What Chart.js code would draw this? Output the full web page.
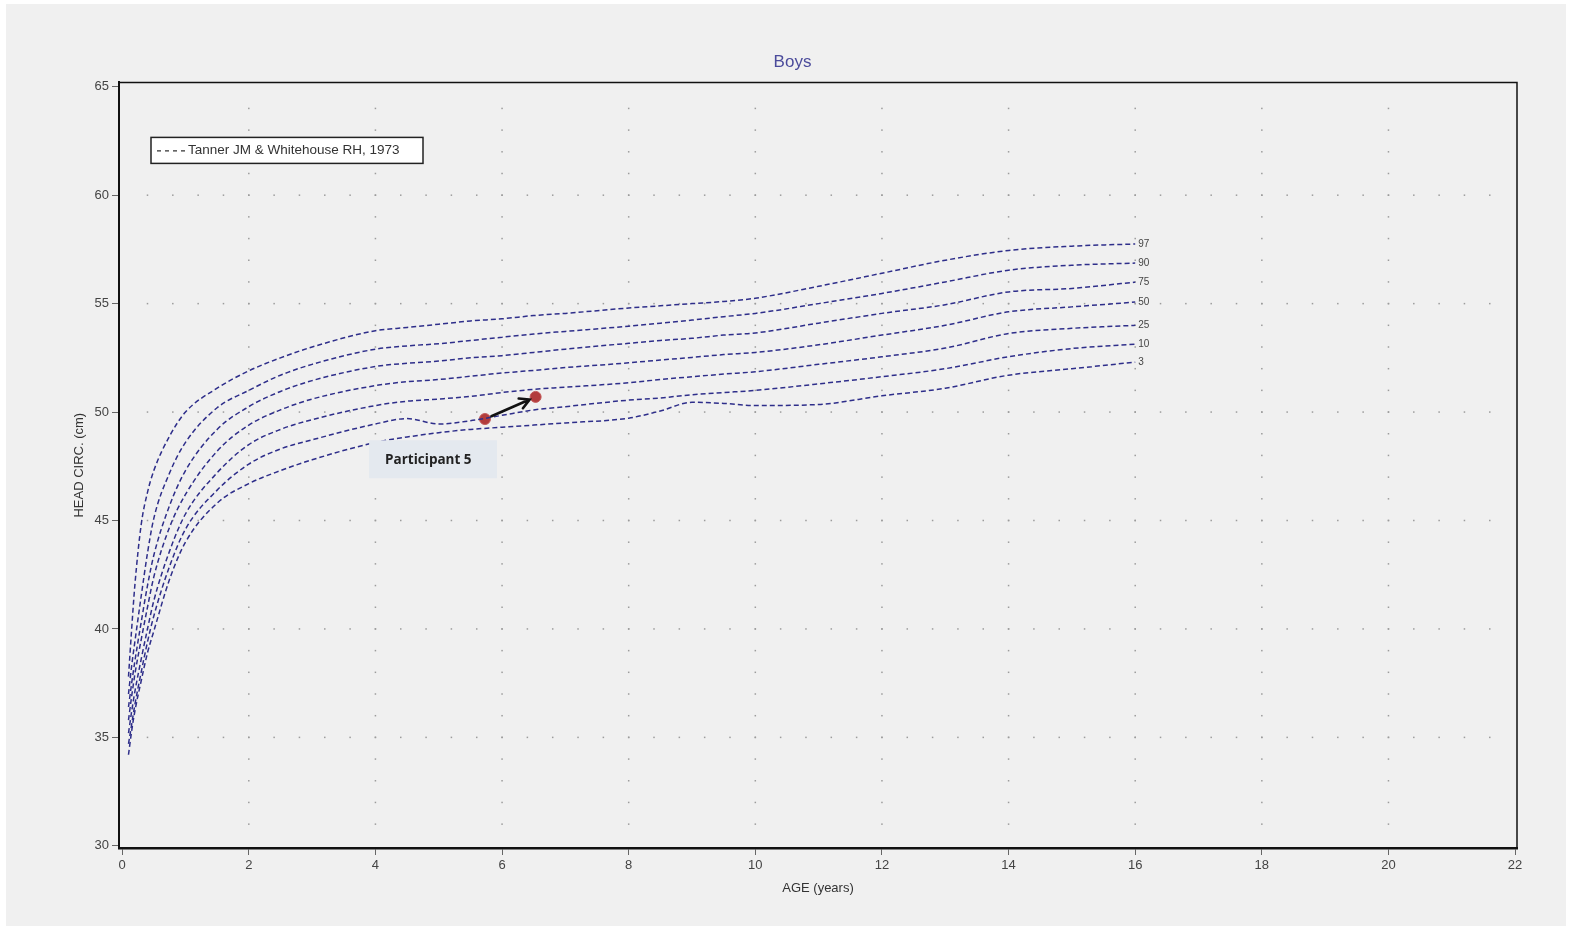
<!DOCTYPE html>
<html>
<head>
<meta charset="utf-8">
<title>Boys - head circumference</title>
<script src="https://cdn.jsdelivr.net/npm/chart.js@4.4.0/dist/chart.umd.min.js"></script>
<style>
  html, body { margin: 0; padding: 0; background: #fff; }
  canvas { display: block; }
</style>
</head>
<body>
<canvas id="headChart" width="1572" height="931"></canvas>
<script>
// ages (years) shared by every centile curve
var ages = [0.1, 0.15, 0.2, 0.3, 0.4, 0.5, 0.75, 1, 1.5, 2, 2.5, 3, 4, 4.5, 5, 5.5, 6, 6.5, 7, 8, 8.5, 9, 9.5, 10, 11, 12, 13, 14, 15, 16];

var p97 = [37.8, 40.0, 42.0, 44.8, 46.3, 47.3, 48.9, 50.0, 51.1, 51.9, 52.5, 53.0, 53.75, 53.9, 54.05, 54.2, 54.3, 54.45, 54.55, 54.8, 54.9, 55.0, 55.1, 55.25, 55.8, 56.4, 57.0, 57.45, 57.65, 57.75];
var p90 = [37.0, 38.3, 39.4, 41.5, 43.5, 45.1, 47.2, 48.6, 50.2, 51.0, 51.7, 52.2, 52.9, 53.05, 53.15, 53.3, 53.45, 53.6, 53.72, 53.96, 54.1, 54.24, 54.4, 54.55, 55.0, 55.47, 56.0, 56.54, 56.77, 56.87];
var p75 = [36.4, 37.5, 38.5, 40.3, 42.0, 43.4, 45.7, 47.3, 49.2, 50.25, 50.95, 51.45, 52.1, 52.25, 52.35, 52.5, 52.6, 52.75, 52.9, 53.17, 53.3, 53.4, 53.55, 53.65, 54.1, 54.55, 54.95, 55.54, 55.7, 55.99];
var p50 = [35.8, 36.9, 37.9, 39.5, 41.0, 42.4, 44.7, 46.2, 48.2, 49.4, 50.1, 50.6, 51.22, 51.4, 51.5, 51.65, 51.8, 51.92, 52.05, 52.27, 52.4, 52.52, 52.65, 52.75, 53.1, 53.55, 54.0, 54.62, 54.85, 55.07];
var p25 = [35.2, 36.2, 37.1, 38.6, 40.0, 41.3, 43.6, 45.3, 47.2, 48.5, 49.2, 49.65, 50.3, 50.5, 50.6, 50.72, 50.9, 51.05, 51.15, 51.35, 51.5, 51.63, 51.75, 51.86, 52.2, 52.55, 52.95, 53.62, 53.86, 54.0];
var p10 = [34.7, 35.6, 36.5, 38.0, 39.4, 40.6, 42.9, 44.6, 46.4, 47.6, 48.3, 48.72, 49.45, 49.7, 49.45, 49.6, 49.85, 50.1, 50.25, 50.55, 50.65, 50.8, 50.9, 51.0, 51.3, 51.63, 52.0, 52.55, 52.93, 53.13];
var p3 = [34.2, 35.3, 36.2, 37.6, 38.9, 39.9, 42.3, 44.0, 45.8, 46.7, 47.3, 47.8, 48.6, 48.85, 49.05, 49.2, 49.3, 49.4, 49.5, 49.72, 50.05, 50.45, 50.4, 50.3, 50.35, 50.75, 51.1, 51.7, 52.0, 52.3];
var centileNames = ['97', '90', '75', '50', '25', '10', '3'];

// participant 5 measurements
var participantAges = [5.73, 6.53];
var participantCm = [49.68, 50.7];
var participantName = 'Participant 5';

var xTicks = [0, 2, 4, 6, 8, 10, 12, 14, 16, 18, 20, 22];
var yTicks = [30, 35, 40, 45, 50, 55, 60, 65];
var legendText = 'Tanner JM & Whitehouse RH, 1973';

var FONT = "'Liberation Sans', Arial, sans-serif";
var curveColor = '#2e2e8a';

function toPoints(xs, ys) {
    return xs.map(function(x, i) { return {x: x, y: ys[i]}; });
}

var centileSeries = [p97, p90, p75, p50, p25, p10, p3];
var datasets = centileSeries.map(function(vals, i) {
    return {
        label: centileNames[i],
        data: toPoints(ages, vals),
        borderColor: curveColor,
        borderWidth: 1.5,
        borderDash: [5, 3],
        pointRadius: 0,
        fill: false,
        cubicInterpolationMode: 'monotone'
    };
});
datasets.push({
    label: participantName,
    data: toPoints(participantAges, participantCm),
    showLine: false,
    pointRadius: 5.5,
    pointBackgroundColor: '#b23c3c',
    pointBorderColor: '#c45a5a',
    pointBorderWidth: 1
});
var participantIndex = datasets.length - 1;

// page background (light grey with thin white margin)
var backgroundPlugin = {
    id: 'pageBg',
    beforeDraw: function(chart) {
        var ctx = chart.ctx;
        ctx.save();
        ctx.fillStyle = '#ffffff';
        ctx.fillRect(0, 0, chart.width, chart.height);
        ctx.fillStyle = '#f0f0f0';
        ctx.fillRect(6, 4, chart.width - 12, chart.height - 9);
        ctx.restore();
    }
};

// dotted grid: vertical lines every 2 years, horizontal every 5 cm
var gridDotsPlugin = {
    id: 'gridDots',
    beforeDatasetsDraw: function(chart) {
        var ctx = chart.ctx, xs = chart.scales.x, ys = chart.scales.y;
        ctx.save();
        ctx.fillStyle = '#9c9c9c';
        xTicks.forEach(function(age) {
            if (age === 0 || age === 22) return;
            var px = xs.getPixelForValue(age);
            for (var cm = 31; cm <= 64; cm++) {
                ctx.fillRect(px - 0.75, ys.getPixelForValue(cm) - 0.75, 1.5, 1.5);
            }
        });
        yTicks.forEach(function(cm) {
            if (cm === 30 || cm === 65) return;
            var py = ys.getPixelForValue(cm);
            for (var k = 1; k <= 54; k++) {
                ctx.fillRect(xs.getPixelForValue(k * 0.4) - 0.75, py - 0.75, 1.5, 1.5);
            }
        });
        ctx.restore();
    }
};

var overlayPlugin = {
    id: 'overlay',
    afterDatasetsDraw: function(chart) {
        var ctx = chart.ctx, area = chart.chartArea;
        ctx.save();

        // top and right frame
        ctx.strokeStyle = '#111';
        ctx.lineWidth = 1.5;
        ctx.beginPath();
        ctx.moveTo(area.left, area.top);
        ctx.lineTo(area.right, area.top);
        ctx.lineTo(area.right, area.bottom);
        ctx.stroke();

        // centile labels at end of each curve
        ctx.font = '10px ' + FONT;
        ctx.fillStyle = '#444';
        ctx.textBaseline = 'middle';
        ctx.textAlign = 'left';
        centileNames.forEach(function(name, i) {
            var meta = chart.getDatasetMeta(i);
            var last = meta.data[meta.data.length - 1];
            ctx.fillText(name, last.x + 3, last.y);
        });

        // arrow between the two measurements
        var pm = chart.getDatasetMeta(participantIndex).data;
        var a = pm[0], b = pm[1];
        var dx = b.x - a.x, dy = b.y - a.y, len = Math.sqrt(dx * dx + dy * dy);
        var ux = dx / len, uy = dy / len;
        var sx = a.x + ux * 7, sy = a.y + uy * 7;
        var ex = b.x - ux * 6.5, ey = b.y - uy * 6.5;
        ctx.strokeStyle = '#111';
        ctx.lineWidth = 2.6;
        ctx.lineCap = 'round';
        ctx.beginPath();
        ctx.moveTo(sx, sy);
        ctx.lineTo(ex, ey);
        var ang = Math.atan2(uy, ux), head = 11;
        ctx.moveTo(ex - head * Math.cos(ang - 0.5), ey - head * Math.sin(ang - 0.5));
        ctx.lineTo(ex, ey);
        ctx.lineTo(ex - head * Math.cos(ang + 0.5), ey - head * Math.sin(ang + 0.5));
        ctx.stroke();
        ctx.restore();
    },
    afterDraw: function(chart) {
        var ctx = chart.ctx, area = chart.chartArea;
        var xs = chart.scales.x, ys = chart.scales.y;
        ctx.save();

        // legend box with dashed line sample
        var lx = area.left + 32, ly = area.top + 55;
        ctx.fillStyle = '#ffffff';
        ctx.fillRect(lx, ly, 272, 26);
        ctx.strokeStyle = '#222';
        ctx.lineWidth = 1.5;
        ctx.strokeRect(lx, ly, 272, 26);
        ctx.strokeStyle = '#333';
        ctx.lineWidth = 1.2;
        ctx.setLineDash([4, 4]);
        ctx.beginPath();
        ctx.moveTo(lx + 6, ly + 13.5);
        ctx.lineTo(lx + 36, ly + 13.5);
        ctx.stroke();
        ctx.setLineDash([]);
        ctx.fillStyle = '#333';
        ctx.font = '13.5px ' + FONT;
        ctx.textBaseline = 'middle';
        ctx.textAlign = 'left';
        ctx.fillText(legendText, lx + 37, ly + 13);

        // participant note
        var bx = xs.getPixelForValue(3.9), bw = xs.getPixelForValue(5.92) - bx;
        var by = ys.getPixelForValue(48.7), bh = ys.getPixelForValue(46.95) - by;
        ctx.fillStyle = '#e4e9ef';
        ctx.fillRect(bx, by, bw, bh);
        ctx.fillStyle = '#222';
        ctx.font = "bold 13.5px 'Open Sans', " + FONT;
        ctx.fillText(participantName, bx + 16, by + bh / 2 + 1);
        ctx.restore();
    }
};

var ctxH = document.getElementById('headChart').getContext('2d');
var headChart = new Chart(ctxH, {
    type: 'line',
    data: { datasets: datasets },
    options: {
        responsive: false,
        animation: false,
        devicePixelRatio: 1,
        layout: { padding: { left: 68, right: 55, top: 40, bottom: 31 } },
        plugins: {
            legend: { display: false },
            tooltip: { enabled: false },
            title: {
                display: true,
                text: 'Boys',
                color: '#4b4b9b',
                font: { size: 17, family: FONT, weight: 'normal' },
                padding: { top: 12, bottom: 10 }
            }
        },
        scales: {
            x: {
                type: 'linear',
                min: -0.05,
                max: 22.03,
                afterBuildTicks: function(scale) {
                    scale.ticks = xTicks.map(function(v) { return {value: v}; });
                },
                afterFit: function(scale) { scale.height = 52; },
                ticks: { color: '#444', font: { size: 13, family: FONT }, padding: 3, maxRotation: 0 },
                grid: { drawOnChartArea: false, drawTicks: true, tickLength: 7, tickColor: '#666', tickWidth: 1 },
                border: { color: '#111', width: 2.5 },
                title: { display: true, text: 'AGE (years)', color: '#333', font: { size: 13, family: FONT }, padding: { top: 4, bottom: 4 } }
            },
            y: {
                type: 'linear',
                min: 29.9,
                max: 65.2,
                afterBuildTicks: function(scale) {
                    scale.ticks = yTicks.map(function(v) { return {value: v}; });
                },
                afterFit: function(scale) { scale.width = 51; },
                ticks: { color: '#444', font: { size: 13, family: FONT }, padding: 3 },
                grid: { drawOnChartArea: false, drawTicks: true, tickLength: 7, tickColor: '#666', tickWidth: 1 },
                border: { color: '#111', width: 2 },
                title: { display: true, text: 'HEAD CIRC. (cm)', color: '#333', font: { size: 13, family: FONT }, padding: { top: 4, bottom: 4 } }
            }
        }
    },
    plugins: [backgroundPlugin, gridDotsPlugin, overlayPlugin]
});
</script>
</body>
</html>
